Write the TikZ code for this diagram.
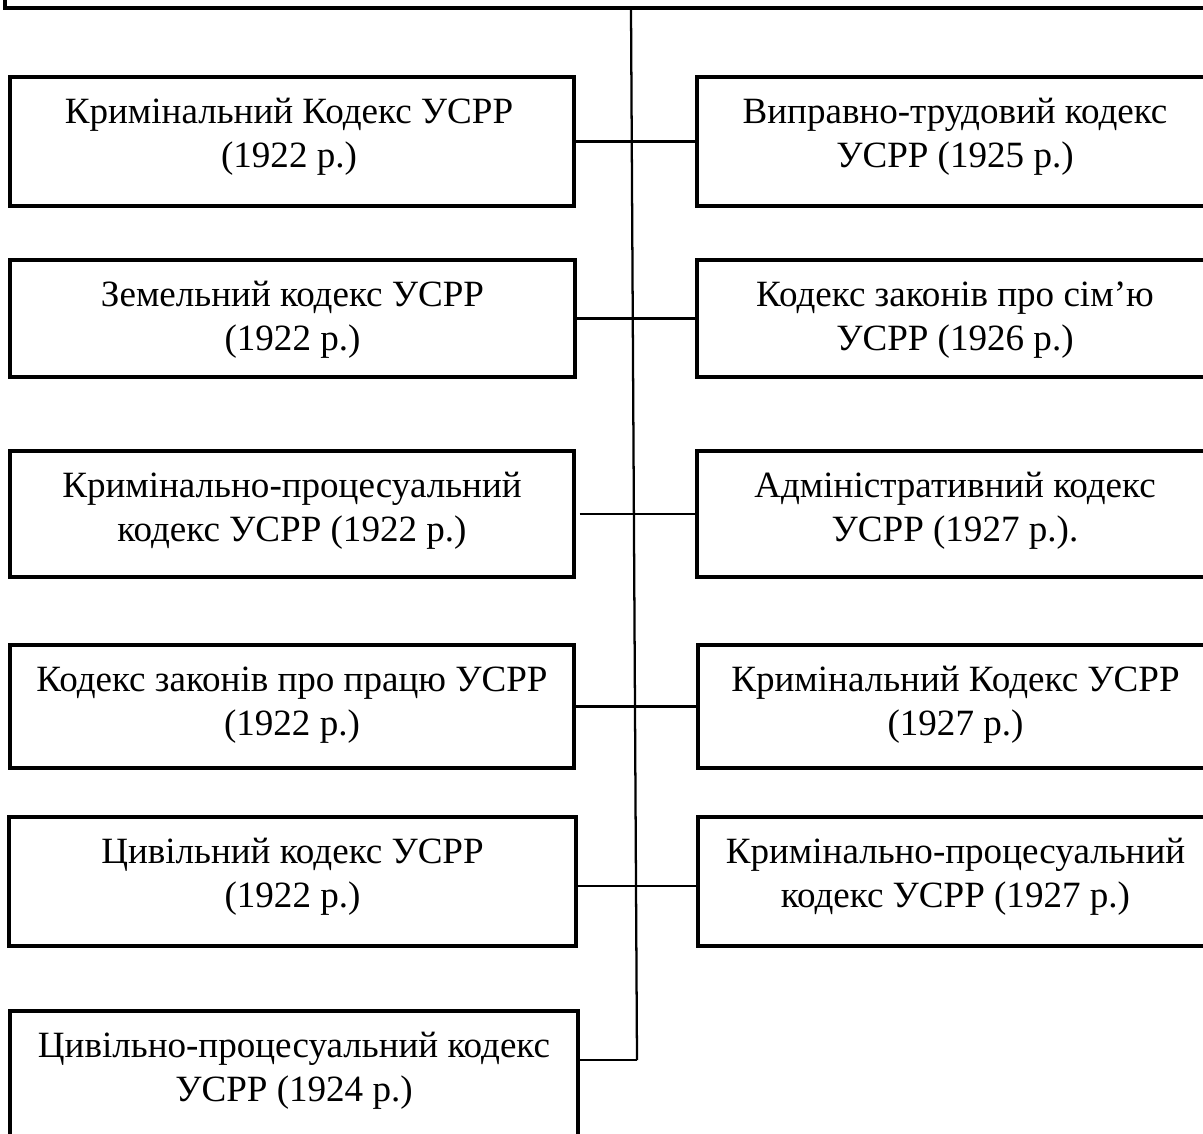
\documentclass[tikz,border=0pt]{standalone}
\usepackage{fontspec}
\setmainfont{Liberation Serif}
\usetikzlibrary{fit,calc}
\begin{document}
\begin{tikzpicture}[x=0.75pt,y=-0.75pt,
  boxframe/.style={draw=black, line width=2.4pt, inner sep=0pt, rectangle},
  txt/.style={inner sep=0pt, align=center, font=\fontsize{27.8}{33}\selectfont},
  conn/.style={draw=black, line width=1.7pt}]
\useasboundingbox (0,0) rectangle (1203,1133);
\clip (0,0) rectangle (1203,1133);
% top box (cut off)
\node[boxframe, fit={(5,-100) (1250,8)}] (T) {};
% left column
\node[boxframe, fit={(10,77) (574,206)}] (L1) {};
\node[boxframe, fit={(10,260) (575,377)}] (L2) {};
\node[boxframe, fit={(10,451) (574,577)}] (L3) {};
\node[boxframe, fit={(10,645) (574,768)}] (L4) {};
\node[boxframe, fit={(9,817) (576,946)}] (L5) {};
\node[boxframe, fit={(10,1011) (578,1200)}] (L6) {};
% right column
\node[boxframe, fit={(697,77) (1213,206)}] (R1) {};
\node[boxframe, fit={(697,260) (1213,377)}] (R2) {};
\node[boxframe, fit={(697,451) (1213,577)}] (R3) {};
\node[boxframe, fit={(698,645) (1213,768)}] (R4) {};
\node[boxframe, fit={(698,817) (1213,946)}] (R5) {};
% texts
\node[txt] (L1t) at ($(L1.north)+(-3,61)$) {\strut Кримінальний Кодекс УСРР\\(1922 р.)\strut};
\node[txt] (L2t) at ($(L2.north)+(0,61)$) {\strut Земельний кодекс УСРР\\(1922 р.)\strut};
\node[txt] (L3t) at ($(L3.north)+(0,61)$) {\strut Кримінально-процесуальний\\кодекс УСРР (1922 р.)\strut};
\node[txt] (L4t) at ($(L4.north)+(0,61)$) {\strut Кодекс законів про працю УСРР\\(1922 р.)\strut};
\node[txt] (L5t) at ($(L5.north)+(0,61)$) {\strut Цивільний кодекс УСРР\\(1922 р.)\strut};
\node[txt] (L6t) at ($(L6.north)+(0,61)$) {\strut Цивільно-процесуальний кодекс\\УСРР (1924 р.)\strut};
\node[txt] (R1t) at ($(R1.north)+(0,61)$) {\strut Виправно-трудовий кодекс\\УСРР (1925 р.)\strut};
\node[txt] (R2t) at ($(R2.north)+(0,61)$) {\strut Кодекс законів про сім’ю\\УСРР (1926 р.)\strut};
\node[txt] (R3t) at ($(R3.north)+(0,61)$) {\strut Адміністративний кодекс\\УСРР (1927 р.).\strut};
\node[txt] (R4t) at ($(R4.north)+(0,61)$) {\strut Кримінальний Кодекс УСРР\\(1927 р.)\strut};
\node[txt] (R5t) at ($(R5.north)+(0,61)$) {\strut Кримінально-процесуальний\\кодекс УСРР (1927 р.)\strut};
% spine
\coordinate (S0) at (631,9);
\coordinate (S6) at (637,1060);
\draw[conn] (S0) -- (S6);
% connectors
\draw[conn] (L1.east) -- (R1.west);
\draw[conn] (L2.east) -- (R2.west);
\draw[conn] ([xshift=3pt]L3.east) -- (R3.west);
\draw[conn] (L4.east) -- (R4.west);
\draw[conn] (L5.east |- 0,886) -- (R5.west |- 0,886);
\draw[conn] (L6.east |- S6) -- (S6);
\end{tikzpicture}
\end{document}
